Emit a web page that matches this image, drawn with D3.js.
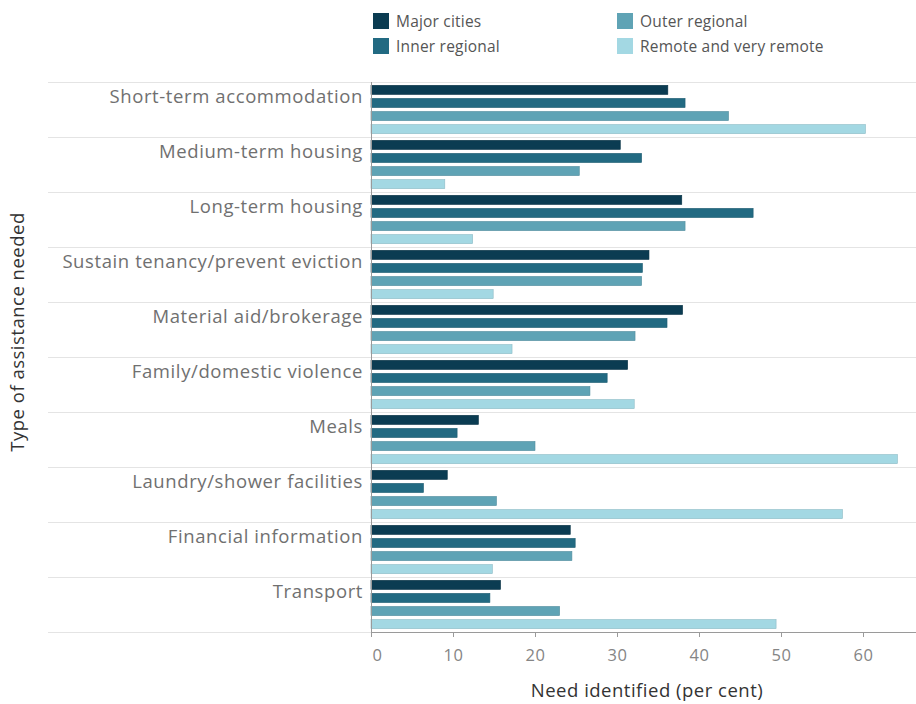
<!DOCTYPE html>
<html><head><meta charset="utf-8">
<script src="https://cdn.jsdelivr.net/npm/d3@7"></script>
<style>body{margin:0;background:#fff;} svg{display:block;font-family:"Open Sans",sans-serif;}</style>
</head><body><svg id="c" width="916" height="704"></svg>
<script>
const categories = ["Short-term accommodation","Medium-term housing","Long-term housing","Sustain tenancy/prevent eviction","Material aid/brokerage","Family/domestic violence","Meals","Laundry/shower facilities","Financial information","Transport"];
const seriesNames = ["Major cities","Inner regional","Outer regional","Remote and very remote"];
const majorCities   = [36.2,30.4,37.9,33.9,38.0,31.3,13.1, 9.3,24.3,15.8];
const innerRegional = [38.3,33.0,46.6,33.1,36.1,28.8,10.5, 6.4,24.9,14.5];
const outerRegional = [43.6,25.4,38.3,33.0,32.2,26.7,20.0,15.3,24.5,23.0];
const remote        = [60.3, 9.0,12.4,14.9,17.2,32.1,64.2,57.5,14.8,49.4];
const xTicks = [0,10,20,30,40,50,60];
const colors = ["#0b3c52","#226a82","#5fa3b5","#a3d8e3"];

const values = [majorCities, innerRegional, outerRegional, remote];
const svg = d3.select("#c");
const pL = 371, pR = 916, pT = 82, pB = 632;
const x = d3.scaleLinear().domain([0,60]).range([pL, 863]);
const y = d3.scaleBand().domain(categories).range([pT, pB]).padding(0);
const ys = d3.scaleBand().domain(seriesNames).range([2, y.bandwidth()-2]).paddingInner(0.3).paddingOuter(0.1);

// row separators
svg.append("g").selectAll("line").data(d3.range(categories.length+1)).join("line")
  .attr("x1",48).attr("x2",pR)
  .attr("y1",i=>pT+i*y.bandwidth()+0.5).attr("y2",i=>pT+i*y.bandwidth()+0.5)
  .attr("stroke","#e4e4e4").attr("stroke-width",1);

// bars
const rows = [];
categories.forEach((c,ci)=>seriesNames.forEach((s,si)=>rows.push({c,s,si,v:values[si][ci]})));
svg.append("g").selectAll("rect").data(rows).join("rect")
  .attr("x",x(0)).attr("y",d=>y(d.c)+ys(d.s))
  .attr("width",d=>x(d.v)-x(0)).attr("height",ys.bandwidth())
  .attr("fill",d=>colors[d.si])
  .attr("stroke",d=>d3.color(colors[d.si]).darker(0.4)).attr("stroke-width",0.6);

// category labels
svg.append("g").selectAll("text").data(categories).join("text")
  .attr("x",363).attr("y",d=>y(d)+21)
  .attr("text-anchor","end").attr("fill","#707070").attr("font-size",18.5)
  .attr("letter-spacing",0.6)
  .text(d=>d);

// y axis line
svg.append("line").attr("x1",pL+0.5).attr("x2",pL+0.5).attr("y1",pT).attr("y2",pB)
  .attr("stroke","#9a9a9a");

// x axis
const xa = svg.append("g").attr("transform",`translate(0,${pB})`)
  .call(d3.axisBottom(x).tickValues(xTicks).tickSize(5).tickFormat(d3.format("d")));
xa.select(".domain").remove();
xa.append("line").attr("x1",pL).attr("x2",pR).attr("y1",0.5).attr("y2",0.5).attr("stroke","#9a9a9a");
xa.selectAll(".tick line").attr("stroke","#9a9a9a");
xa.selectAll(".tick text").attr("fill","#858585").attr("font-size",16.5).attr("font-family","'Open Sans',sans-serif")
  .attr("letter-spacing",0.5).attr("dy","1.25em");
xa.selectAll(".tick").filter(d=>d===0).select("text").attr("dx",6);

// axis titles
svg.append("text").attr("x",647).attr("y",697).attr("text-anchor","middle")
  .attr("fill","#333").attr("font-size",18.5).attr("letter-spacing",0.5).text("Need identified (per cent)");
svg.append("text").attr("transform","translate(24,332) rotate(-90)").attr("text-anchor","middle")
  .attr("fill","#333").attr("font-size",18.5).attr("letter-spacing",0.5).text("Type of assistance needed");

// legend
const leg = [{i:0,x:373,y:13},{i:1,x:373,y:38},{i:2,x:617,y:13},{i:3,x:617,y:38}];
const lg = svg.append("g").selectAll("g").data(leg).join("g").attr("transform",d=>`translate(${d.x},${d.y})`);
lg.append("rect").attr("width",16).attr("height",16).attr("fill",d=>colors[d.i]);
lg.append("text").attr("x",23).attr("y",13.5).attr("fill","#555").attr("font-size",15.5)
  .attr("letter-spacing",0.2).text(d=>seriesNames[d.i]);
</script></body></html>
